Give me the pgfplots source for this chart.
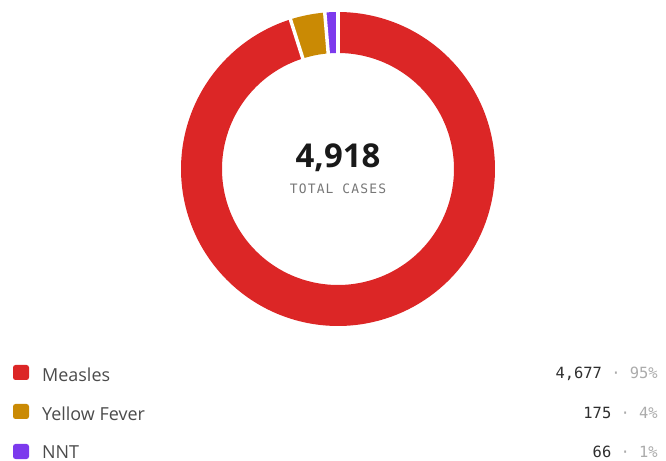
\documentclass[border=0pt]{standalone}
\usepackage{pgfplots}
\pgfplotsset{compat=1.18}
\usepackage{fontspec}
\setmainfont{Open Sans}
\newfontfamily\monof{DejaVu Sans Mono}
\definecolor{cRed}{HTML}{DC2626}
\definecolor{cYel}{HTML}{CA8A04}
\definecolor{cPur}{HTML}{7C3AED}
\definecolor{cLab}{HTML}{4B4B4B}
\definecolor{cVal}{HTML}{2E2E2E}
\definecolor{cGry}{HTML}{ABABAB}
\definecolor{cSub}{HTML}{777777}
% data
\def\vA{4677}\def\vB{175}\def\vC{66}
\pgfmathsetmacro\tot{\vA+\vB+\vC}
\pgfmathsetmacro\aA{90-360*(\vA/\tot)}
\pgfmathsetmacro\aB{\aA-360*(\vB/\tot)}
\pgfmathsetmacro\aC{\aB-360*(\vC/\tot)}
\def\cx{338}\def\cy{292}\def\rm{136.5}
\newcommand\sep{\kern0.602em\hbox to 0.602em{\hss·\hss}\kern0.602em}
\begin{document}
\begin{tikzpicture}
\path[use as bounding box] (0,0) rectangle (666bp,461bp);
\begin{axis}[at={(0,0)},anchor=origin,x=1bp,y=1bp,xmin=0,xmax=666,ymin=0,ymax=461,
  hide axis,clip=false]
\addplot[cRed,line width=41bp,domain=\aA:90,samples=200] ({\cx+\rm*cos(x)},{\cy+\rm*sin(x)});
\addplot[cYel,line width=41bp,domain=\aB:\aA,samples=20] ({\cx+\rm*cos(x)},{\cy+\rm*sin(x)});
\addplot[cPur,line width=41bp,domain=\aC:\aB,samples=10] ({\cx+\rm*cos(x)},{\cy+\rm*sin(x)});
\addplot[white,line width=3.5bp,domain=105:168,samples=2] ({\cx+x*cos(90)},{\cy+x*sin(90)});
\addplot[white,line width=3.5bp,domain=105:168,samples=2] ({\cx+x*cos(\aA)},{\cy+x*sin(\aA)});
\addplot[white,line width=3.5bp,domain=105:168,samples=2] ({\cx+x*cos(\aB)},{\cy+x*sin(\aB)});
% centre text
\node[anchor=base,inner sep=0,text=black!90] at (axis cs:\cx,294) {\fontsize{33}{33}\selectfont\bfseries 4,918};
\node[anchor=base,inner sep=0,text=cSub] at (axis cs:\cx,268) {\monof\addfontfeature{LetterSpace=9}\fontsize{13}{14}\selectfont TOTAL CASES};
% legend
\fill[cRed,rounded corners=2.5bp] (axis cs:13,81) rectangle (axis cs:29,96);
\fill[cYel,rounded corners=2.5bp] (axis cs:13,42) rectangle (axis cs:29,57);
\fill[cPur,rounded corners=2.5bp] (axis cs:13,2) rectangle (axis cs:29,17);
\node[anchor=base west,inner sep=0,text=cLab] at (axis cs:42,80) {\fontsize{18}{18}\selectfont Measles};
\node[anchor=base west,inner sep=0,text=cLab] at (axis cs:42,41) {\fontsize{18}{18}\selectfont Yellow Fever};
\node[anchor=base west,inner sep=0,text=cLab] at (axis cs:42,3) {\fontsize{18}{18}\selectfont NNT};
\node[anchor=base east,inner sep=0] at (axis cs:658,83) {\monof\fontsize{15.5}{16}\selectfont\textcolor{cVal}{4,677}\textcolor{cGry}{\sep 95\%}};
\node[anchor=base east,inner sep=0] at (axis cs:658,43) {\monof\fontsize{15.5}{16}\selectfont\textcolor{cVal}{175}\textcolor{cGry}{\sep 4\%}};
\node[anchor=base east,inner sep=0] at (axis cs:658,4) {\monof\fontsize{15.5}{16}\selectfont\textcolor{cVal}{66}\textcolor{cGry}{\sep 1\%}};
\end{axis}
\end{tikzpicture}
\end{document}
